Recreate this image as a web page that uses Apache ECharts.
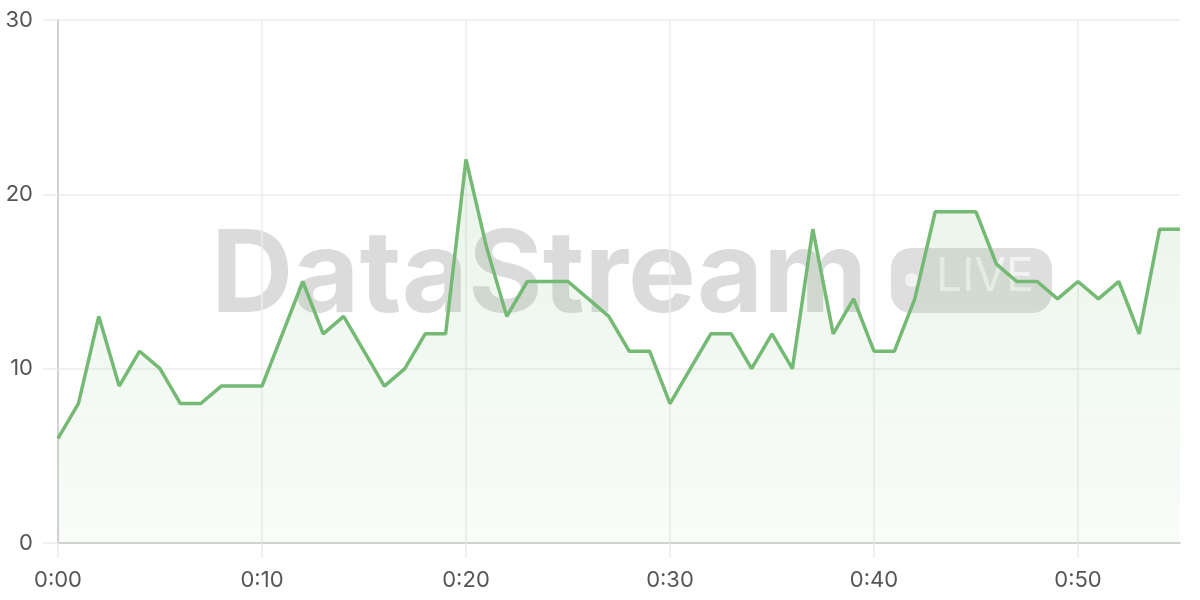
<!DOCTYPE html>
<html>
<head>
<meta charset="utf-8">
<style>
html,body{margin:0;padding:0;background:#fff;}
#chart{width:1200px;height:600px;}
</style>
<script src="https://cdn.jsdelivr.net/npm/echarts@6/dist/echarts.min.js"></script>
</head>
<body>
<div id="chart"></div>
<script>
const minutes = [];
for (let i = 0; i <= 55; i++) minutes.push('0:' + String(i).padStart(2, '0'));
const values = [6, 8, 13, 9, 11, 10, 8, 8, 9, 9,
  9, 12, 15, 12, 13, 11, 9, 10, 12, 12,
  22, 17, 13, 15, 15, 15, 14, 13, 11, 11,
  8, 10, 12, 12, 10, 12, 10, 18, 12, 14,
  11, 11, 14, 19, 19, 19, 16, 15, 15, 14,
  15, 14, 15, 12, 18, 18];
const yTicks = [0, 10, 20, 30];
const watermarkText = 'DataStream';
const badgeText = 'LIVE';

const chart = echarts.init(document.getElementById('chart'), null, {renderer: 'canvas'});
const font = 'Inter, "Noto Sans", sans-serif';
chart.setOption({
  animation: false,
  grid: {left: 58, right: 20, top: 20, bottom: 57},
  graphic: [
    {type: 'text', z: 0, left: 211, top: 221,
      style: {text: watermarkText, font: 'bold 114px ' + font, fill: 'rgba(0,0,0,0.14)'}},
    {type: 'rect', z: 0, shape: {x: 891, y: 248, width: 161, height: 65, r: 20},
      style: {fill: 'rgba(0,0,0,0.13)'}},
    {type: 'circle', z: 0, shape: {cx: 912, cy: 280, r: 7},
      style: {fill: 'rgba(255,255,255,0.6)'}},
    {type: 'text', z: 0, left: 936, top: 254,
      style: {text: badgeText, font: '46px ' + font, fill: 'rgba(255,255,255,0.6)'}}
  ],
  xAxis: {
    type: 'category',
    data: minutes,
    boundaryGap: false,
    axisLine: {lineStyle: {color: '#d2d2d2', width: 2}},
    axisTick: {show: true, interval: 9, length: 15, lineStyle: {color: '#ececec', width: 1.5}},
    axisLabel: {interval: 9, color: '#555', fontSize: 22, fontFamily: font, margin: 26},
    splitLine: {show: true, interval: 9, lineStyle: {color: '#ececec', width: 1.5}}
  },
  yAxis: {
    type: 'value',
    min: 0, max: 30, interval: 10,
    axisLine: {show: true, lineStyle: {color: '#d2d2d2', width: 2}},
    axisTick: {show: true, length: 15, lineStyle: {color: '#ececec', width: 1.5}},
    axisLabel: {color: '#555', fontSize: 22, fontFamily: font, margin: 25,
      formatter: v => yTicks.includes(v) ? String(v) : ''},
    splitLine: {lineStyle: {color: '#ececec', width: 1.5}}
  },
  series: [{
    type: 'line',
    data: values,
    z: 3,
    symbol: 'none',
    lineStyle: {color: '#74b974', width: 3.5},
    areaStyle: {
      color: new echarts.graphic.LinearGradient(0, 0, 0, 1, [
        {offset: 0, color: 'rgba(116,185,116,0.22)'},
        {offset: 1, color: 'rgba(116,185,116,0.06)'}
      ])
    }
  }]
});
</script>
</body>
</html>
